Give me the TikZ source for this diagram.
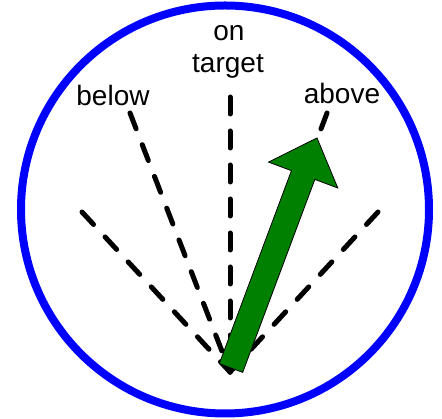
\documentclass[tikz,border=0pt]{standalone}
\usepackage{fontspec}
\setmainfont{Liberation Sans}
\definecolor{arrowgreen}{RGB}{0,128,0}
\definecolor{ringblue}{RGB}{0,0,255}
\begin{document}
\begin{tikzpicture}[x=1pt,y=1pt,
  ring/.style={draw=ringblue,line width=8pt},
  ray/.style={draw=black,line width=5pt,line cap=round,dash pattern=on 17pt off 17pt},
  lbl/.style={font=\fontsize{28}{31}\selectfont,inner sep=0pt,align=center},
  bigarrow/.style={fill=arrowgreen,draw=black,line width=0.8pt,line join=miter}]
\useasboundingbox (0,0) rectangle (442,419);
\node[circle,ring,minimum size=408pt,inner sep=0pt] (ring) at (225,209.5) {};
\coordinate (o) at (230,47);
\coordinate (farleft) at (82,207);
\coordinate (below) at (130,306);
\coordinate (target) at (230,322);
\coordinate (above) at (327,306);
\coordinate (farright) at (378,207);
\draw[ray] (farleft) -- (o);
\draw[ray] (below) -- (o);
\draw[ray] (target) -- (o);
\draw[ray] (above) -- (o);
\draw[ray] (farright) -- (o);
\node[lbl] (lbelow) at (113,323) {below};
\node[lbl] (lon) at (229,386) {on};
\node[lbl] (ltarget) at (228,353) {target};
\node[lbl] (labove) at (342,325) {above};
\begin{scope}[shift={(231,51)},rotate=69.5]
\draw[bigarrow] (0,-12.5) -- (206,-12.5) -- (206,-37) -- (245.6,0) -- (206,37) -- (206,12.5) -- (0,12.5) -- cycle;
\end{scope}
\end{tikzpicture}
\end{document}
